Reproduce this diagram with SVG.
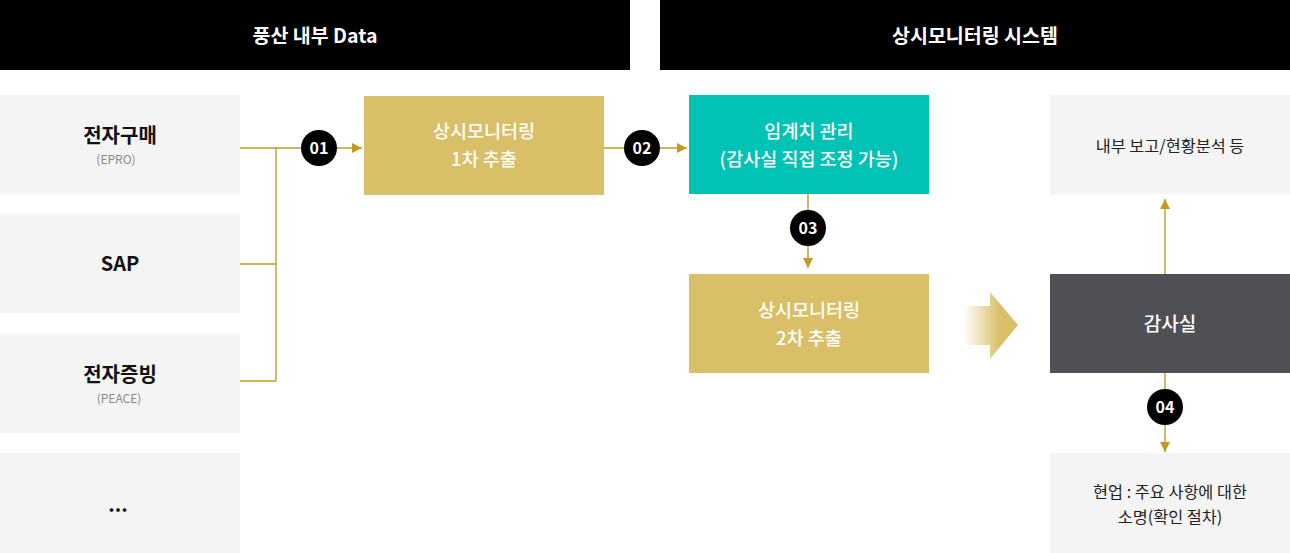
<svg xmlns="http://www.w3.org/2000/svg" width="1290" height="553" viewBox="0 0 1290 553">
<defs>
<style>
text{font-family:"Noto Sans CJK KR","Noto Sans",sans-serif;text-anchor:middle}
.hd{fill:#fff;font-size:19.5px;font-weight:700}
.src{fill:#f4f4f4}
.st{fill:#111;font-size:20px;font-weight:700}
.sub{fill:#8a8a8a;font-size:12px}
.gold{fill:#d9bf68}
.wt{fill:#fff;font-size:18.5px;font-weight:500}
.dt{fill:#222;font-size:16.3px}
.ln{stroke:#c49a22;stroke-width:1.4;fill:none}
.num{fill:#000}
.nt{fill:#fff;font-size:16px;font-weight:700}
</style>
<marker id="ah" viewBox="0 0 10 10" refX="10" refY="5" markerWidth="10" markerHeight="10" markerUnits="userSpaceOnUse" orient="auto">
<path d="M0,0 L10,5 L0,10 Z" fill="#c49a22"/>
</marker>
<linearGradient id="ga" x1="963" y1="0" x2="1000" y2="0" gradientUnits="userSpaceOnUse">
<stop offset="0" stop-color="#d9bf68" stop-opacity="0"/>
<stop offset="1" stop-color="#d9bf68"/>
</linearGradient>
</defs>
<rect width="1290" height="553" fill="#fff"/>
<g id="header-left"><rect x="0" y="0" width="630" height="70" fill="#000"/><text class="hd" x="315" y="43">풍산 내부 Data</text></g>
<g id="header-right"><rect x="660" y="0" width="630" height="70" fill="#000"/><text class="hd" x="975" y="43">상시모니터링 시스템</text></g>
<g id="connectors">
<path class="ln" d="M240,148 H276 M240,264 H276 M240,381 H276 M276,148 V381"/>
<path class="ln" d="M276,148 H362" marker-end="url(#ah)"/>
<path class="ln" d="M604,148 H687" marker-end="url(#ah)"/>
<path class="ln" d="M808,194 V268" marker-end="url(#ah)"/>
<path class="ln" d="M1165,274 V199" marker-end="url(#ah)"/>
<path class="ln" d="M1165,373 V452" marker-end="url(#ah)"/>
<path d="M963,306 H990 V292 L1018,325 L990,359 V345 H963 Z" fill="url(#ga)"/>
</g>
<g id="n01"><circle class="num" cx="319" cy="148" r="18"/><text class="nt" x="319" y="153.5">01</text></g>
<g id="n02"><circle class="num" cx="642" cy="148" r="18"/><text class="nt" x="642" y="153.5">02</text></g>
<g id="n03"><circle class="num" cx="808" cy="228" r="18"/><text class="nt" x="808" y="233.5">03</text></g>
<g id="n04"><circle class="num" cx="1165" cy="407" r="18"/><text class="nt" x="1165" y="412.5">04</text></g>
<g id="epro"><rect class="src" x="0" y="95" width="240" height="99"/><text class="st" x="120" y="143">전자구매</text><text class="sub" x="116" y="164">(EPRO)</text></g>
<g id="sap"><rect class="src" x="0" y="214" width="240" height="99"/><text class="st" x="120" y="271">SAP</text></g>
<g id="peace"><rect class="src" x="0" y="334" width="240" height="99"/><text class="st" x="120" y="382">전자증빙</text><text class="sub" x="119" y="403">(PEACE)</text></g>
<g id="etc"><rect class="src" x="0" y="453" width="240" height="100"/><text class="st" x="118" y="512">...</text></g>
<g id="extract1"><rect class="gold" x="364" y="96" width="240" height="99"/><text class="wt" x="484" y="137.5">상시모니터링</text><text class="wt" x="484" y="165.5">1차 추출</text></g>
<g id="threshold"><rect x="689" y="95" width="240" height="99" fill="#00c2b5"/><text class="wt" x="809" y="137.5">임계치 관리</text><text class="wt" x="809" y="165.5">(감사실 직접 조정 가능)</text></g>
<g id="extract2"><rect class="gold" x="689" y="274" width="240" height="99"/><text class="wt" x="809" y="316.5">상시모니터링</text><text class="wt" x="809" y="344.5">2차 추출</text></g>
<g id="report"><rect class="src" x="1050" y="95" width="240" height="99"/><text class="dt" x="1170" y="151.5">내부 보고/현황분석 등</text></g>
<g id="audit"><rect x="1050" y="274" width="240" height="99" fill="#4f5055"/><text class="wt" x="1170" y="331" style="font-size:19px">감사실</text></g>
<g id="field"><rect class="src" x="1050" y="453" width="240" height="100"/><text class="dt" x="1170" y="498">현업 : 주요 사항에 대한</text><text class="dt" x="1170" y="523">소명(확인 절차)</text></g>
</svg>
